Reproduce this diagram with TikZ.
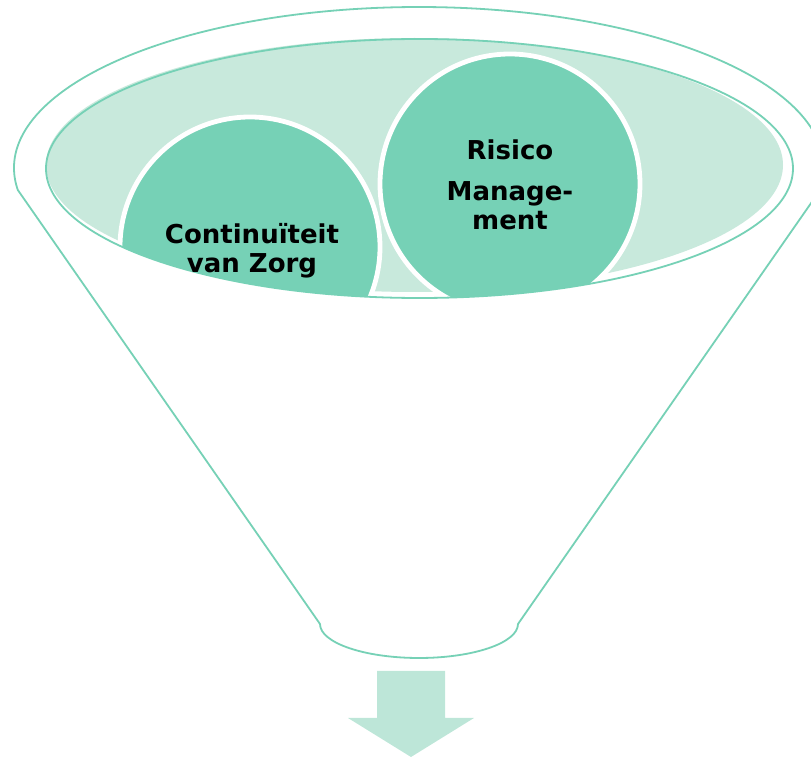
\documentclass[tikz,border=0pt]{standalone}
\usepackage{fontspec}
\setmainfont{DejaVu Sans}
\usetikzlibrary{positioning}

\definecolor{mintdark}{HTML}{76D1B6}
\definecolor{mintlight}{HTML}{C8E9DC}
\definecolor{mintarrow}{HTML}{BDE6D8}

\begin{document}
\begin{tikzpicture}[
    x=0.5pt, y=0.5pt,
    funnel/.style={draw=mintdark, line width=0.9pt, fill=white},
    bowl/.style={fill=mintlight},
    rim/.style={draw=mintdark, line width=0.9pt},
    topic/.style={circle, fill=mintdark, draw=white, line width=2.4pt, minimum size=130pt, inner sep=0pt},
    topictext/.style={font=\fontsize{13}{14.5}\selectfont\bfseries, align=center, inner sep=0pt},
    outflow/.style={fill=mintarrow}
]
\useasboundingbox (0,0) rectangle (811,757);

% Funnel body
\draw[funnel] (419,589) ++(187.85:405 and 161)
    arc[start angle=187.85, end angle=-7.85, x radius=405, y radius=161]
    -- (518,133) arc[start angle=0, end angle=-180, x radius=99, y radius=34] -- cycle;

% Bowl
\fill[bowl] (414.5,592) ellipse [x radius=368.5, y radius=127];

% Topics, cut off by the rim
\begin{scope}
\clip (419.5,588.5) ellipse [x radius=373.5, y radius=129.5];
\node[topic] (zorg) at (250,510) {};
\node[topic] (risico) at (510,573) {};
\end{scope}
\draw[rim] (419.5,588.5) ellipse [x radius=373.5, y radius=129.5];

% Topic labels
\node[topictext] (zorgtext) at (252,506) {Continuïteit\\van Zorg};
\node[topictext] (risicotext) at (510,572) {Risico\\[6pt]Manage-\\ment};

% Outflow arrow
\fill[outflow] (377,86) -- (445,86) -- (445,39) -- (474,39) -- (411,0) -- (348,39) -- (377,39) -- cycle;
\end{tikzpicture}
\end{document}
